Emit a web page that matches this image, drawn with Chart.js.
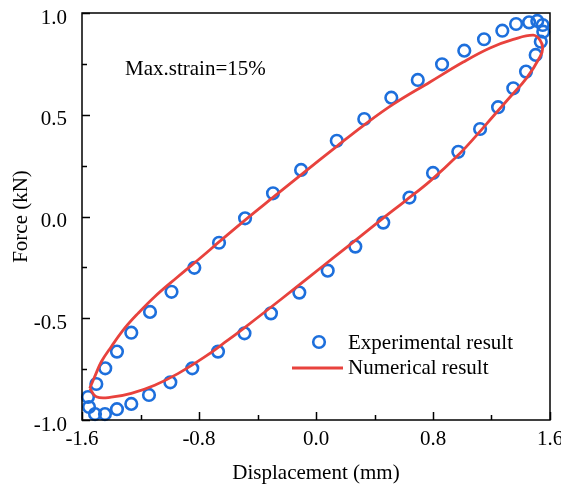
<!DOCTYPE html>
<html>
<head>
<meta charset="utf-8">
<script src="https://cdn.jsdelivr.net/npm/chart.js@4.4.1/dist/chart.umd.min.js"></script>
<style>
  html, body { margin: 0; padding: 0; background: #fff; }
  canvas { display: block; }
</style>
</head>
<body>
<canvas id="loopChart" width="561" height="489"></canvas>
<script>
// measured loop: displacement (mm) / force (kN), loading branch then unloading branch
const expDisp = [-1.559, -1.502, -1.441, -1.361, -1.263, -1.135, -0.988, -0.832, -0.663, -0.485,
  -0.294, -0.102, 0.142, 0.330, 0.515, 0.696, 0.862, 1.014, 1.149, 1.274, 1.368, 1.457, 1.513,
  1.550, 1.554,
  1.537, 1.502, 1.436, 1.349, 1.245, 1.122, 0.973, 0.800, 0.639, 0.460, 0.269, 0.080, -0.114,
  -0.308, -0.489, -0.670, -0.846, -0.996, -1.142, -1.263, -1.361, -1.443, -1.511, -1.552];
const expForce = [-0.887, -0.823, -0.746, -0.664, -0.571, -0.469, -0.370, -0.252, -0.129, -0.009,
  0.114, 0.229, 0.372, 0.479, 0.584, 0.671, 0.748, 0.815, 0.871, 0.913, 0.946, 0.954, 0.961,
  0.941, 0.908,
  0.859, 0.794, 0.712, 0.630, 0.537, 0.430, 0.318, 0.214, 0.093, -0.030, -0.148, -0.266, -0.374,
  -0.476, -0.574, -0.664, -0.746, -0.815, -0.877, -0.921, -0.947, -0.971, -0.971, -0.936];

// simulated loop, starts and ends at the left tip
const numDisp = [-1.547, -1.513, -1.468, -1.400, -1.308, -1.217, -1.103, -0.955, -0.793, -0.663,
  -0.481, -0.292, -0.109, 0.142, 0.324, 0.529, 0.780, 1.007, 1.190, 1.349, 1.486, 1.532, 1.550,
  1.532, 1.441, 1.327, 1.213, 1.099, 0.985, 0.780, 0.609, 0.438, 0.233, 0.050, -0.132, -0.337,
  -0.492, -0.624, -0.761, -0.944, -1.103, -1.263, -1.400, -1.502, -1.547];
const numForce = [-0.844, -0.787, -0.714, -0.640, -0.549, -0.476, -0.394, -0.302, -0.205, -0.125,
  -0.015, 0.095, 0.201, 0.345, 0.447, 0.552, 0.661, 0.759, 0.828, 0.870, 0.891, 0.867, 0.827,
  0.785, 0.681, 0.587, 0.494, 0.400, 0.311, 0.174, 0.076, -0.020, -0.138, -0.242, -0.346, -0.462,
  -0.548, -0.619, -0.690, -0.772, -0.829, -0.869, -0.888, -0.886, -0.844];

const xTickLabels = ['-1.6', '-0.8', '0.0', '0.8', '1.6'];
const yTickLabels = ['-1.0', '-0.5', '0.0', '0.5', '1.0'];
const seriesNames = ['Experimental result', 'Numerical result'];
const note = 'Max.strain=15%';

const BLUE = '#1d6fdc';
const RED = '#e8423d';
const FONT = "'Liberation Serif', 'Times New Roman', serif";
const FONT_SIZE = 21;

const toPoints = (xs, ys) => xs.map((x, i) => ({ x: x, y: ys[i] }));

// box, inward ticks, legend and note
const framePlugin = {
  id: 'frame',
  afterDraw(chart) {
    const { ctx, chartArea: a, scales } = chart;
    ctx.save();
    ctx.strokeStyle = '#000';
    ctx.lineWidth = 1.5;
    ctx.strokeRect(a.left, a.top, a.right - a.left, a.bottom - a.top);

    ctx.beginPath();
    scales.x.ticks.forEach((t, i) => {
      const px = Math.round(scales.x.getPixelForValue(t.value)) + 0.5;
      const len = i % 2 === 0 ? 8 : 5;
      ctx.moveTo(px, a.bottom);
      ctx.lineTo(px, a.bottom - len);
    });
    scales.y.ticks.forEach((t, i) => {
      const py = Math.round(scales.y.getPixelForValue(t.value)) + 0.5;
      const len = i % 2 === 0 ? 8 : 5;
      ctx.moveTo(a.left, py);
      ctx.lineTo(a.left + len, py);
    });
    ctx.stroke();

    const ds = chart.data.datasets;
    ctx.font = FONT_SIZE + 'px ' + FONT;
    ctx.fillStyle = '#000';
    ctx.textBaseline = 'alphabetic';
    ctx.textAlign = 'left';
    ctx.fillText(note, 125, 75);

    // legend
    ctx.beginPath();
    ctx.arc(319, 342, ds[1].pointRadius, 0, Math.PI * 2);
    ctx.strokeStyle = ds[1].borderColor;
    ctx.lineWidth = ds[1].borderWidth;
    ctx.stroke();
    ctx.beginPath();
    ctx.moveTo(292, 368);
    ctx.lineTo(343, 368);
    ctx.strokeStyle = ds[0].borderColor;
    ctx.lineWidth = ds[0].borderWidth;
    ctx.stroke();
    ctx.fillText(seriesNames[0], 348, 348.5);
    ctx.fillText(seriesNames[1], 348, 373.5);
    ctx.restore();
  }
};

new Chart(document.getElementById('loopChart'), {
  type: 'scatter',
  data: {
    datasets: [{
      label: seriesNames[1],
      data: toPoints(numDisp, numForce),
      showLine: true,
      borderColor: RED,
      borderWidth: 2.8,
      pointRadius: 0,
      tension: 0.4,
      fill: false
    }, {
      label: seriesNames[0],
      data: toPoints(expDisp, expForce),
      pointStyle: 'circle',
      pointRadius: 5.8,
      borderColor: BLUE,
      backgroundColor: 'rgba(0,0,0,0)',
      borderWidth: 2.6,
      clip: false
    }]
  },
  options: {
    responsive: false,
    animation: false,
    devicePixelRatio: 1,
    layout: { padding: { top: 13, right: 11, left: 0, bottom: 0 } },
    plugins: {
      legend: { display: false },
      tooltip: { enabled: false }
    },
    scales: {
      x: {
        type: 'linear',
        min: -1.6,
        max: 1.6,
        grid: { display: false, drawTicks: false },
        border: { display: false },
        ticks: {
          stepSize: 0.4,
          padding: 7,
          color: '#000',
          font: { family: FONT, size: FONT_SIZE },
          maxRotation: 0,
          autoSkip: false,
          callback: (v, i) => (i % 2 === 0 ? xTickLabels[i / 2] : '')
        },
        title: {
          display: true,
          text: 'Displacement (mm)',
          color: '#000',
          font: { family: FONT, size: FONT_SIZE },
          padding: { top: 0, bottom: 3 }
        },
        afterFit: (s) => { s.height = 69; s.paddingLeft = 0; s.paddingRight = 0; }
      },
      y: {
        type: 'linear',
        min: -1.0,
        max: 1.0,
        grid: { display: false, drawTicks: false },
        border: { display: false },
        ticks: {
          stepSize: 0.25,
          padding: 15,
          labelOffset: 5,
          color: '#000',
          font: { family: FONT, size: FONT_SIZE },
          autoSkip: false,
          callback: (v, i) => (i % 2 === 0 ? yTickLabels[i / 2] : '')
        },
        title: {
          display: true,
          text: 'Force (kN)',
          color: '#000',
          font: { family: FONT, size: FONT_SIZE },
          padding: { top: 9, bottom: 0 }
        },
        afterFit: (s) => { s.width = 82; s.paddingTop = 0; s.paddingBottom = 0; }
      }
    }
  },
  plugins: [framePlugin]
});
</script>
</body>
</html>
